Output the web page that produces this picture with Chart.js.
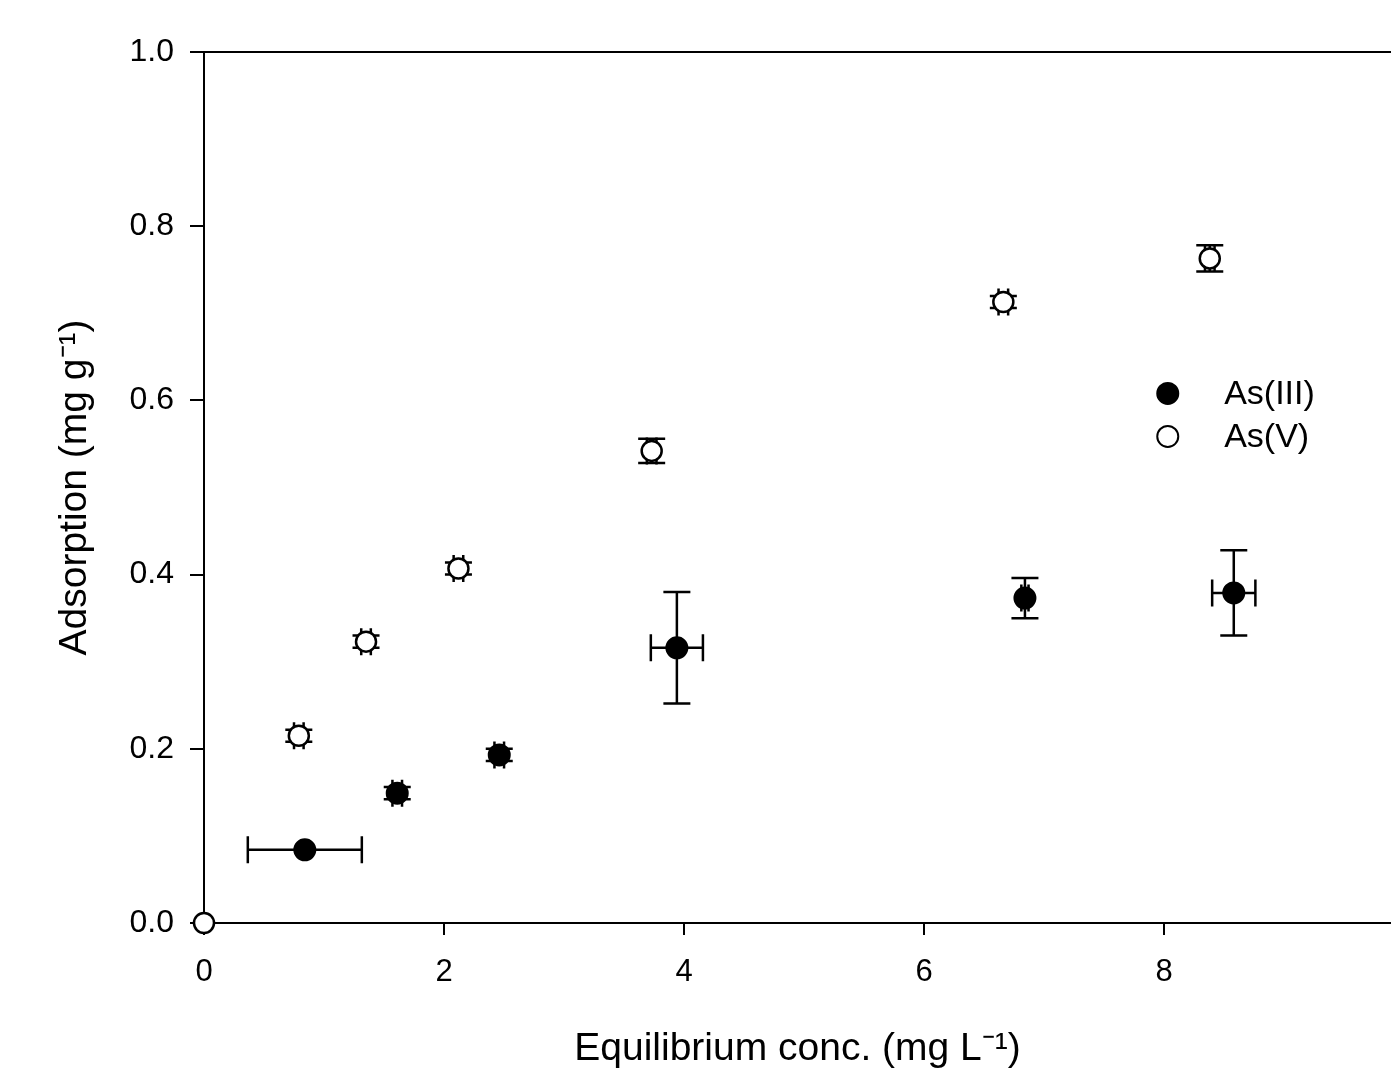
<!DOCTYPE html>
<html>
<head>
<meta charset="utf-8">
<script src="https://cdn.jsdelivr.net/npm/chart.js@4.4.1/dist/chart.umd.min.js"></script>
<style>
  html, body { margin: 0; padding: 0; background: #ffffff; }
  #wrap { width: 1391px; height: 1072px; position: relative; }
</style>
</head>
<body>
<div id="wrap"><canvas id="c" width="1391" height="1072"></canvas></div>
<script>
// ---- Data ----
const seriesNames = ['As(III)', 'As(V)'];

const asIII_x    = [0.84, 1.61, 2.46, 3.94, 6.84, 8.58];
const asIII_y    = [0.084, 0.149, 0.193, 0.316, 0.373, 0.379];
const asIII_xErr = [0.475, 0.04, 0.04, 0.217, 0.03, 0.18];
const asIII_yErr = [0.0, 0.007, 0.007, 0.064, 0.023, 0.049];

const asV_x    = [0.0, 0.79, 1.35, 2.12, 3.73, 6.66, 8.38];
const asV_y    = [0.0, 0.215, 0.323, 0.407, 0.542, 0.713, 0.763];
const asV_xErr = [0.0, 0.04, 0.04, 0.04, 0.04, 0.04, 0.04];
const asV_yErr = [0.0, 0.007, 0.007, 0.007, 0.014, 0.007, 0.015];

const xTicks = [0, 2, 4, 6, 8];
const yTicks = [0.0, 0.2, 0.4, 0.6, 0.8, 1.0];
const xRange = [0, 9.89];
const yRange = [0, 1.0];

const xTitle = 'Equilibrium conc. (mg L\u207B\u00B9)';
const yTitle = 'Adsorption (mg g\u207B\u00B9)';

function toPoints(xs, ys, xe, ye) {
  return xs.map((x, i) => ({ x: x, y: ys[i], xErr: xe[i], yErr: ye[i] }));
}

const FONT = "Arial, 'Liberation Sans', Helvetica, sans-serif";

// ---- Plugins ----
const errorBarPlugin = {
  id: 'errorBars',
  beforeDatasetsDraw(chart) {
    const ctx = chart.ctx;
    const xs = chart.scales.x, ys = chart.scales.y;
    const cap = 13.5;
    ctx.save();
    ctx.strokeStyle = '#000';
    ctx.lineWidth = 2.5;
    chart.data.datasets.forEach((ds) => {
      ds.data.forEach((p) => {
        const cx = xs.getPixelForValue(p.x);
        const cy = ys.getPixelForValue(p.y);
        if (p.yErr > 0) {
          const y1 = ys.getPixelForValue(p.y + p.yErr);
          const y2 = ys.getPixelForValue(p.y - p.yErr);
          ctx.beginPath();
          ctx.moveTo(cx, y1); ctx.lineTo(cx, y2);
          ctx.moveTo(cx - cap, y1); ctx.lineTo(cx + cap, y1);
          ctx.moveTo(cx - cap, y2); ctx.lineTo(cx + cap, y2);
          ctx.stroke();
        }
        if (p.xErr > 0) {
          const x1 = xs.getPixelForValue(p.x - p.xErr);
          const x2 = xs.getPixelForValue(p.x + p.xErr);
          ctx.beginPath();
          ctx.moveTo(x1, cy); ctx.lineTo(x2, cy);
          ctx.moveTo(x1, cy - cap); ctx.lineTo(x1, cy + cap);
          ctx.moveTo(x2, cy - cap); ctx.lineTo(x2, cy + cap);
          ctx.stroke();
        }
      });
    });
    ctx.restore();
  }
};

const framePlugin = {
  id: 'frame',
  afterDraw(chart) {
    const ctx = chart.ctx;
    const a = chart.chartArea;
    ctx.save();
    ctx.strokeStyle = '#000';
    ctx.lineWidth = 2;
    ctx.beginPath();
    ctx.moveTo(a.left - 14, a.top);
    ctx.lineTo(chart.width, a.top);
    ctx.stroke();
    ctx.restore();
  }
};

const legendPlugin = {
  id: 'innerLegend',
  afterDraw(chart) {
    const ctx = chart.ctx;
    const xs = chart.scales.x, ys = chart.scales.y;
    const mx = xs.getPixelForValue(8.03);
    const tx = xs.getPixelForValue(8.5);
    const y0 = ys.getPixelForValue(0.608);
    const dy = 43;
    ctx.save();
    chart.data.datasets.forEach((ds, i) => {
      const y = y0 + i * dy;
      ctx.beginPath();
      ctx.arc(mx, y, 10.5, 0, Math.PI * 2);
      ctx.fillStyle = ds.backgroundColor;
      ctx.fill();
      ctx.lineWidth = 2;
      ctx.strokeStyle = '#000';
      ctx.stroke();
      ctx.fillStyle = '#000';
      ctx.font = '34px ' + FONT;
      ctx.textBaseline = 'middle';
      ctx.textAlign = 'left';
      ctx.fillText(ds.label, tx, y + 1);
    });
    ctx.restore();
  }
};

// ---- Chart ----
new Chart(document.getElementById('c'), {
  type: 'scatter',
  data: {
    datasets: [
      {
        label: seriesNames[0],
        data: toPoints(asIII_x, asIII_y, asIII_xErr, asIII_yErr),
        backgroundColor: '#000000',
        borderColor: '#000000',
        borderWidth: 2,
        pointRadius: 10.5,
        pointHoverRadius: 10.5,
        clip: false
      },
      {
        label: seriesNames[1],
        data: toPoints(asV_x, asV_y, asV_xErr, asV_yErr),
        backgroundColor: '#ffffff',
        borderColor: '#000000',
        borderWidth: 2.5,
        pointRadius: 10,
        pointHoverRadius: 10,
        clip: false
      }
    ]
  },
  options: {
    responsive: false,
    animation: false,
    events: [],
    layout: { autoPadding: false, padding: { top: 52, right: 0, left: 0, bottom: 0 } },
    plugins: {
      legend: { display: false },
      tooltip: { enabled: false }
    },
    scales: {
      x: {
        type: 'linear',
        min: xRange[0],
        max: xRange[1],
        afterBuildTicks(scale) { scale.ticks = xTicks.map(v => ({ value: v })); },
        afterFit(scale) { scale.height = 149; },
        grid: { display: true, drawOnChartArea: false, drawTicks: true, tickLength: 12, color: '#000', lineWidth: 2 },
        border: { display: true, color: '#000', width: 2 },
        ticks: {
          color: '#000',
          font: { family: FONT, size: 31 },
          padding: 19,
          maxRotation: 0,
          callback: (v) => String(v)
        },
        title: {
          display: true,
          text: xTitle,
          color: '#000',
          font: { family: FONT, size: 39, lineHeight: 1 },
          padding: { top: 0, bottom: 3 }
        }
      },
      y: {
        type: 'linear',
        min: yRange[0],
        max: yRange[1],
        afterBuildTicks(scale) { scale.ticks = yTicks.map(v => ({ value: v })); },
        afterFit(scale) { scale.width = 204; },
        grid: { display: true, drawOnChartArea: false, drawTicks: true, tickLength: 14, color: '#000', lineWidth: 2 },
        border: { display: true, color: '#000', width: 2 },
        ticks: {
          color: '#000',
          font: { family: FONT, size: 32 },
          padding: 16,
          callback: (v) => Number(v).toFixed(1)
        },
        title: {
          display: true,
          text: yTitle,
          color: '#000',
          font: { family: FONT, size: 39, lineHeight: 1 },
          padding: { top: 56, bottom: 0 }
        }
      }
    }
  },
  plugins: [errorBarPlugin, framePlugin, legendPlugin]
});
</script>
</body>
</html>
